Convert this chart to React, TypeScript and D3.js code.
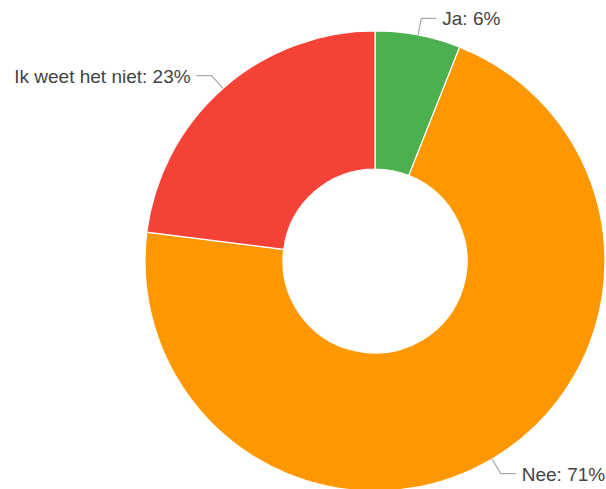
import React from "react";
import * as d3 from "d3";

const categories = ["Ja", "Nee", "Ik weet het niet"];
const values = [6, 71, 23];
const colors = ["#4caf50", "#ff9800", "#f44336"];

const W = 606;
const H = 489;
const cx = 375;
const cy = 261;
const outerR = 230;
const innerR = 92;

export default function App() {
  const pie = d3
    .pie<number>()
    .sort(null)
    .value((d) => d);
  const arcs = pie(values);
  const arcGen = d3
    .arc<d3.PieArcDatum<number>>()
    .innerRadius(innerR)
    .outerRadius(outerR);
  const total = d3.sum(values);

  return (
    <svg
      width={W}
      height={H}
      style={{ position: "absolute", left: 0, top: 0, background: "#fff" }}
    >
      <g transform={`translate(${cx},${cy})`}>
        {arcs.map((a, i) => (
          <path
            key={i}
            d={arcGen(a) || ""}
            fill={colors[i]}
            stroke="#fff"
            strokeWidth={1.2}
          />
        ))}
      </g>
      {arcs.map((a, i) => {
        const mid = (a.startAngle + a.endAngle) / 2;
        const sx = cx + outerR * Math.sin(mid);
        const sy = cy - outerR * Math.cos(mid);
        const ex = cx + (outerR + 17) * Math.sin(mid);
        const ey = cy - (outerR + 17) * Math.cos(mid);
        const right = Math.sin(mid) >= 0;
        const hx = right ? ex + 15 : ex - 15;
        const tx = right ? hx + 6 : hx - 6;
        const pct = Math.round((values[i] / total) * 100);
        return (
          <g key={"l" + i}>
            <polyline
              points={`${sx},${sy} ${ex},${ey} ${hx},${ey}`}
              fill="none"
              stroke="#a8a8a8"
              strokeWidth={1.2}
            />
            <text
              x={tx}
              y={ey + 7}
              textAnchor={right ? "start" : "end"}
              fontFamily="Liberation Sans, Arial, sans-serif"
              fontSize={19}
              fill="#444"
            >
              {`${categories[i]}: ${pct}%`}
            </text>
          </g>
        );
      })}
    </svg>
  );
}
